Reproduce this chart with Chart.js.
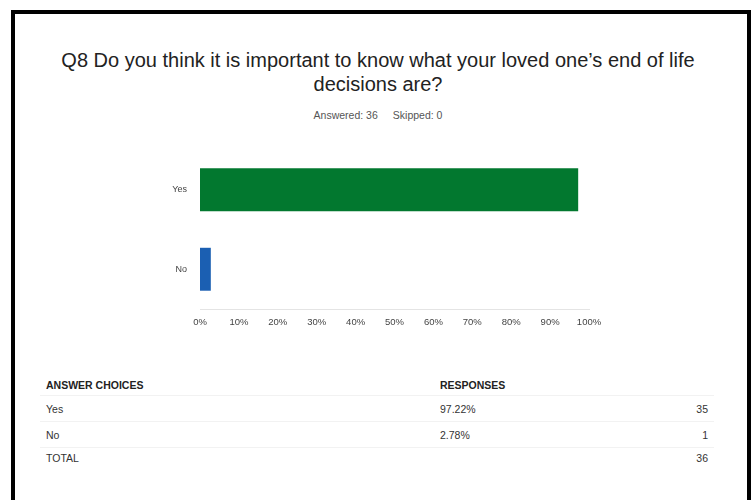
<!DOCTYPE html>
<html>
<head>
<meta charset="utf-8">
<script src="https://cdn.jsdelivr.net/npm/chart.js@4/dist/chart.umd.min.js"></script>
<style>
  html, body { margin: 0; padding: 0; background: #fff; }
  body { width: 756px; height: 500px; position: relative; overflow: hidden; font-family: "Liberation Sans", Arial, sans-serif; }
  .frame { position: absolute; left: 11px; top: 10px; width: 732px; height: 520px; border: 4px solid #000; }
  .title { position: absolute; left: 0; top: 48px; width: 756px; text-align: center; font-size: 20px; line-height: 24px; color: #222; }
  .meta { position: absolute; left: 0; top: 109px; width: 756px; text-align: center; font-size: 10.5px; color: #555; }
  .meta span + span { margin-left: 15px; }
  .wrap { position: absolute; left: 150px; top: 150px; width: 460px; height: 190px; }
  table { position: absolute; left: 40px; top: 375px; width: 674px; border-collapse: collapse; font-size: 10.5px; color: #333; }
  th { text-align: left; font-weight: bold; color: #222; padding: 0 6px; height: 20px; }
  td { padding: 0 6px; height: 25px; border-top: 1px solid #f2f2f2; }
  td.num { text-align: right; }
  .c1 { width: 382px; }
  tr.total td { height: 20px; }
</style>
</head>
<body>
<div class="frame"></div>
<div class="title">Q8 Do you think it is important to know what your loved one’s end of life<br>decisions are?</div>
<div class="meta"><span>Answered: 36</span><span>Skipped: 0</span></div>
<div class="wrap"><canvas id="q8Chart"></canvas></div>
<table id="q8Table"></table>

<script>
// Відповіді на Q8
const choices = ["Yes", "No"];
const percents = [97.22, 2.78];
const counts = [35, 1];
const totalAnswered = 36;
const barColors = ["#02782f", "#1b5fb2"];
const xTicks = [0, 10, 20, 30, 40, 50, 60, 70, 80, 90, 100];

// Таблиця під графіком
function renderTable() {
    const tbl = document.getElementById("q8Table");
    let html = '<tr><th class="c1">ANSWER CHOICES</th><th>RESPONSES</th><th></th></tr>';
    choices.forEach((c, i) => {
        html += `<tr><td>${c}</td><td>${percents[i].toFixed(2)}%</td><td class="num">${counts[i]}</td></tr>`;
    });
    html += `<tr class="total"><td>TOTAL</td><td></td><td class="num">${totalAnswered}</td></tr>`;
    tbl.innerHTML = html;
}

function renderChart() {
    const ctx = document.getElementById("q8Chart").getContext("2d");
    new Chart(ctx, {
        type: "bar",
        data: {
            labels: choices,
            datasets: [{
                data: percents,
                backgroundColor: barColors,
                borderWidth: 0,
                barPercentage: 0.54,
                categoryPercentage: 1
            }]
        },
        options: {
            indexAxis: "y",
            responsive: true,
            maintainAspectRatio: false,
            animation: false,
            layout: { padding: { top: 0, right: 21, bottom: 0, left: 0 } },
            plugins: {
                legend: { display: false },
                tooltip: { enabled: false }
            },
            scales: {
                x: {
                    min: 0,
                    max: 100,
                    afterBuildTicks: (s) => { s.ticks = xTicks.map(v => ({ value: v })); },
                    afterFit: (s) => { s.height = 31; },
                    grid: { display: false, drawTicks: false },
                    border: { display: true, color: "#e4e4e4", width: 1 },
                    ticks: {
                        padding: 8,
                        color: "#444",
                        font: { family: "Liberation Sans", size: 9.5 },
                        maxRotation: 0,
                        callback: (v) => v + "%"
                    }
                },
                y: {
                    // ширина осі фіксована, відступи міток не зсувають область графіка
                    afterFit: (s) => { s.width = 50; s.paddingTop = 0; s.paddingBottom = 0; },
                    grid: { display: false, drawTicks: false },
                    border: { display: false },
                    ticks: {
                        padding: 13,
                        color: "#444",
                        font: { family: "Liberation Sans", size: 9 }
                    }
                }
            }
        }
    });
}

renderTable();
renderChart();
</script>
</body>
</html>
